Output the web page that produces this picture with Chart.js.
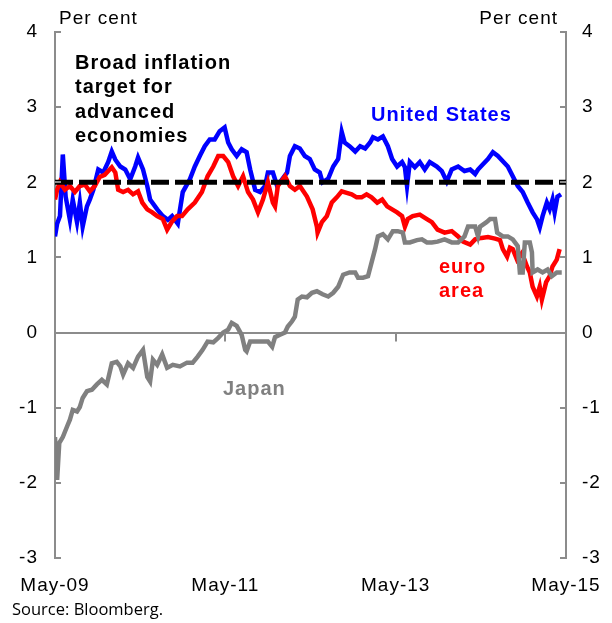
<!DOCTYPE html>
<html>
<head>
<meta charset="utf-8">
<script src="https://cdn.jsdelivr.net/npm/chart.js@4.4.0/dist/chart.umd.min.js"></script>
<style>
  html, body { margin: 0; padding: 0; background: #fff; }
  #wrap { width: 612px; height: 623px; }
</style>
</head>
<body>
<div id="wrap"><canvas id="lineChart" width="612" height="623"></canvas></div>
<script>
// months since May-09
var tickLabels = ['May-09', 'May-11', 'May-13', 'May-15'];
var targetValue = 2;

var usMonths = [0, 0.3, 0.7, 1.1, 1.5, 2.1, 2.5, 3.1, 3.5, 3.9, 4.5, 4.9, 5.4, 6.1, 6.8, 7.5, 8.0, 8.5, 9.2, 9.9,
    10.6, 11.3, 11.7, 12.4, 13.0, 13.4, 14.4, 15.2, 15.9, 16.5, 17.3, 18.0, 19.0, 19.7, 20.4, 21.1, 21.8, 22.5, 23.2, 23.9,
    24.4, 24.9, 25.6, 26.3, 27.0, 27.5, 28.2, 28.9, 29.6, 30.0, 30.7, 31.3, 32.0, 32.7, 33.1, 33.8, 34.5, 35.2, 35.9, 36.6,
    37.3, 37.7, 38.5, 39.2, 39.9, 40.4, 40.8, 41.5, 42.3, 43.0, 43.7, 44.4, 44.8, 45.5, 46.2, 46.9, 47.5, 48.2, 48.9, 49.3,
    49.6, 50.0, 50.7, 51.4, 52.1, 52.8, 53.8, 54.5, 55.2, 55.9, 56.8, 57.7, 58.5, 59.2, 59.6, 60.3, 61.0, 61.7, 62.4, 63.1,
    63.8, 64.5, 65.2, 65.9, 66.6, 67.3, 67.9, 68.3, 68.7, 69.3, 69.7, 70.1, 70.4, 70.8, 71.3];
var usValues = [1.28, 1.45, 1.55, 2.37, 1.81, 1.5, 1.77, 1.47, 1.73, 1.41, 1.68, 1.77, 1.9, 2.17, 2.13, 2.27, 2.41, 2.3, 2.21, 2.17,
    2.04, 2.21, 2.33, 2.17, 1.95, 1.77, 1.64, 1.55, 1.5, 1.55, 1.45, 1.87, 2.04, 2.21, 2.35, 2.48, 2.57, 2.57, 2.68, 2.73,
    2.53, 2.44, 2.35, 2.44, 2.4, 2.17, 1.9, 1.87, 1.95, 2.13, 2.13, 1.95, 2.04, 2.13, 2.35, 2.48, 2.45, 2.35, 2.31, 2.17,
    2.13, 2.0, 2.05, 2.21, 2.31, 2.67, 2.53, 2.48, 2.41, 2.48, 2.45, 2.53, 2.6, 2.57, 2.61, 2.48, 2.31, 2.21, 2.27, 2.2,
    1.95, 2.27, 2.2, 2.27, 2.17, 2.27, 2.21, 2.15, 2.01, 2.17, 2.21, 2.15, 2.17, 2.11, 2.17, 2.24, 2.31, 2.4, 2.35, 2.28,
    2.21, 2.08, 1.95, 1.87, 1.73, 1.6, 1.51, 1.4, 1.55, 1.73, 1.64, 1.77, 1.6, 1.81, 1.84];

var euroMonths = [0, 0.3, 0.7, 1.4, 2.1, 2.8, 3.5, 4.2, 4.9, 5.6, 6.3, 7.0, 8.0, 8.5, 8.9, 9.6, 10.3, 11.0, 11.7, 12.3,
    13.0, 13.7, 14.4, 15.2, 15.8, 16.5, 17.2, 17.9, 18.7, 19.7, 20.7, 21.5, 22.3, 23.0, 23.7, 24.4, 25.1, 25.8, 26.5, 27.2,
    27.9, 28.6, 29.3, 30.0, 30.7, 31.0, 31.4, 32.4, 33.1, 33.8, 34.5, 35.5, 36.3, 36.9, 37.0, 37.6, 38.3, 39.0, 39.7, 40.4,
    41.1, 41.8, 42.5, 43.2, 43.9, 44.6, 45.4, 46.1, 46.8, 47.5, 48.2, 48.9, 49.3, 49.7, 50.4, 51.4, 52.4, 53.1, 53.9, 54.9,
    55.9, 56.8, 57.5, 58.5, 59.2, 60.1, 61.0, 62.0, 62.7, 63.1, 63.7, 64.1, 64.5, 65.1, 65.8, 66.5, 66.9, 67.3, 67.9, 68.3,
    68.6, 69.2, 69.7, 70.1, 70.7, 71.1];
var euroValues = [1.77, 1.9, 2.0, 1.9, 1.95, 1.87, 1.95, 1.97, 1.88, 1.95, 2.07, 2.1, 2.2, 2.13, 1.9, 1.87, 1.9, 1.84, 1.88, 1.73,
    1.64, 1.6, 1.55, 1.51, 1.37, 1.48, 1.55, 1.55, 1.64, 1.73, 1.87, 2.08, 2.21, 2.35, 2.35, 2.27, 2.08, 1.95, 2.08, 1.87,
    1.77, 1.6, 1.77, 2.0, 1.73, 1.68, 1.95, 2.08, 1.95, 1.9, 1.95, 1.81, 1.64, 1.41, 1.33, 1.47, 1.55, 1.73, 1.8, 1.88,
    1.86, 1.84, 1.8, 1.8, 1.84, 1.8, 1.73, 1.77, 1.68, 1.64, 1.6, 1.55, 1.41, 1.51, 1.55, 1.57, 1.51, 1.47, 1.37, 1.33,
    1.35, 1.28, 1.21, 1.17, 1.24, 1.26, 1.27, 1.25, 1.23, 1.11, 1.01, 1.13, 1.11, 0.97, 1.06, 0.88, 0.8, 0.61, 0.48, 0.61,
    0.44, 0.67, 0.75, 0.88, 0.97, 1.11];

var japanMonths = [0, 0.15, 0.3, 0.6, 1.1, 1.7, 2.1, 2.5, 3.1, 3.5, 3.9, 4.5, 5.2, 5.9, 6.6, 7.3, 8.0, 8.7, 9.2, 9.6,
    10.3, 11.0, 11.7, 12.4, 13.0, 13.4, 13.8, 14.4, 15.1, 15.8, 16.6, 17.6, 18.6, 19.4, 20.1, 20.8, 21.5, 22.3, 23.0, 23.7,
    24.4, 24.9, 25.6, 26.3, 26.8, 27.0, 27.5, 28.5, 29.3, 30.0, 30.6, 31.0, 31.7, 32.4, 32.8, 33.4, 33.8, 34.2, 34.8, 35.5,
    36.2, 36.9, 37.7, 38.5, 39.2, 39.9, 40.6, 41.5, 42.3, 42.7, 43.4, 44.1, 44.6, 45.1, 45.5, 46.2, 46.9, 47.6, 48.3, 49.0,
    49.3, 50.0, 51.0, 51.7, 52.4, 53.1, 53.9, 54.9, 55.9, 56.8, 57.7, 58.2, 59.2, 59.6, 59.9, 60.8, 61.3, 62.0, 62.3, 63.1,
    63.8, 64.5, 65.2, 65.5, 65.9, 66.2, 66.9, 67.2, 67.3, 68.0, 68.7, 69.4, 70.0, 70.7, 71.4];
var japanValues = [-1.39, -1.69, -1.96, -1.47, -1.39, -1.25, -1.16, -1.03, -1.05, -0.99, -0.87, -0.78, -0.76, -0.69, -0.63, -0.69, -0.41, -0.39, -0.45, -0.56,
    -0.41, -0.47, -0.32, -0.23, -0.59, -0.65, -0.36, -0.43, -0.29, -0.47, -0.43, -0.45, -0.4, -0.4, -0.32, -0.23, -0.12, -0.13, -0.07, 0.0,
    0.04, 0.13, 0.09, -0.03, -0.23, -0.25, -0.12, -0.12, -0.12, -0.12, -0.19, -0.06, -0.03, 0.0, 0.08, 0.15, 0.21, 0.44, 0.48, 0.47,
    0.53, 0.55, 0.51, 0.48, 0.53, 0.61, 0.77, 0.8, 0.8, 0.73, 0.73, 0.75, 0.93, 1.11, 1.28, 1.31, 1.24, 1.35, 1.35, 1.33,
    1.2, 1.2, 1.23, 1.24, 1.2, 1.2, 1.21, 1.24, 1.2, 1.2, 1.28, 1.41, 1.41, 1.28, 1.41, 1.47, 1.51, 1.51, 1.33, 1.28,
    1.28, 1.24, 1.15, 0.8, 0.8, 1.2, 1.2, 1.07, 0.8, 0.84, 0.8, 0.84, 0.75, 0.8, 0.8];

function toPoints(xs, ys) {
    return xs.map(function(x, i) {
        return { x: x, y: ys[i] };
    });
}

var FONT = "'Liberation Sans', Arial, sans-serif";
var AXIS_GREY = '#8c8c8c';

var annotations = {
    id: 'annotations',
    beforeDraw: function(chart) {
        chart.ctx.letterSpacing = '1px';
    },
    afterDraw: function(chart) {
        var ctx = chart.ctx;
        var area = chart.chartArea;
        var yScale = chart.scales.y;
        var xScale = chart.scales.x;
        ctx.save();
        ctx.letterSpacing = '1px';

        // inward tick marks on both value axes
        ctx.strokeStyle = AXIS_GREY;
        ctx.lineWidth = 2;
        yScale.ticks.forEach(function(t) {
            var py = Math.round(yScale.getPixelForValue(t.value));
            ctx.beginPath();
            ctx.moveTo(area.left, py);
            ctx.lineTo(area.left + 6, py);
            ctx.moveTo(area.right, py);
            ctx.lineTo(area.right - 6, py);
            ctx.stroke();
        });
        // date ticks hanging from the zero line
        var zeroY = yScale.getPixelForValue(0);
        [24, 48].forEach(function(m) {
            var px = Math.round(xScale.getPixelForValue(m));
            ctx.beginPath();
            ctx.moveTo(px, zeroY);
            ctx.lineTo(px, zeroY + 9);
            ctx.stroke();
        });

        ctx.textBaseline = 'middle';
        ctx.fillStyle = '#000';
        ctx.font = '19px ' + FONT;
        ctx.textAlign = 'left';
        ctx.fillText('Per cent', 59, 19);
        ctx.textAlign = 'right';
        ctx.fillText('Per cent', 558, 19);

        ctx.textAlign = 'left';
        ctx.font = 'bold 20px ' + FONT;
        ctx.fillText('Broad inflation', 75, 63);
        ctx.fillText('target for', 75, 87);
        ctx.fillText('advanced', 75, 112);
        ctx.fillText('economies', 75, 136);

        ctx.fillStyle = '#0000ff';
        ctx.fillText('United States', 371, 115);

        ctx.fillStyle = '#ff0000';
        ctx.fillText('euro', 439, 267);
        ctx.fillText('area', 439, 291);

        ctx.fillStyle = '#808080';
        ctx.fillText('Japan', 223, 389);

        ctx.letterSpacing = '0px';
        ctx.fillStyle = '#000';
        ctx.font = "16.5px 'Open Sans', sans-serif";
        ctx.fillText('Source: Bloomberg.', 12, 610);
        ctx.restore();
    }
};

var ctx = document.getElementById('lineChart');
var myChart = new Chart(ctx.getContext('2d'), {
    type: 'line',
    data: {
        datasets: [{
            label: 'Target',
            data: [{ x: 0, y: targetValue }, { x: 72, y: targetValue }],
            borderColor: '#000',
            borderWidth: 5,
            borderDash: [18, 6],
            pointRadius: 0
        }, {
            label: 'Japan',
            data: toPoints(japanMonths, japanValues),
            borderColor: '#808080',
            borderWidth: 4.5,
            pointRadius: 0
        }, {
            label: 'euro area',
            data: toPoints(euroMonths, euroValues),
            borderColor: '#ff0000',
            borderWidth: 4.5,
            pointRadius: 0
        }, {
            label: 'United States',
            data: toPoints(usMonths, usValues),
            borderColor: '#0000ff',
            borderWidth: 4.5,
            pointRadius: 0
        }]
    },
    options: {
        responsive: false,
        animation: false,
        layout: { padding: { top: 32, left: 0, right: 0, bottom: 0 } },
        plugins: {
            legend: { display: false },
            tooltip: { enabled: false }
        },
        scales: {
            x: {
                type: 'linear',
                min: 0,
                max: 72,
                grid: { display: false },
                border: { display: false },
                ticks: {
                    stepSize: 24,
                    padding: 8,
                    color: '#000',
                    font: { family: FONT, size: 19 },
                    maxRotation: 0,
                    callback: function(v) {
                        return tickLabels[v / 24];
                    }
                },
                afterFit: function(scale) { scale.height = 65; }
            },
            y: {
                position: 'left',
                min: -3,
                max: 4,
                grid: {
                    drawTicks: false,
                    lineWidth: 2,
                    color: function(c) {
                        return c.tick && c.tick.value === 0 ? AXIS_GREY : 'rgba(0,0,0,0)';
                    }
                },
                border: { color: AXIS_GREY, width: 2 },
                ticks: {
                    stepSize: 1,
                    padding: 17,
                    color: '#000',
                    font: { family: FONT, size: 19 }
                },
                afterFit: function(scale) { scale.width = 55; }
            },
            y2: {
                position: 'right',
                min: -3,
                max: 4,
                grid: { display: false, drawTicks: false },
                border: { color: AXIS_GREY, width: 2 },
                ticks: {
                    stepSize: 1,
                    padding: 16,
                    color: '#000',
                    font: { family: FONT, size: 19 }
                },
                afterFit: function(scale) { scale.width = 46; }
            }
        }
    },
    plugins: [annotations]
});
</script>
</body>
</html>
